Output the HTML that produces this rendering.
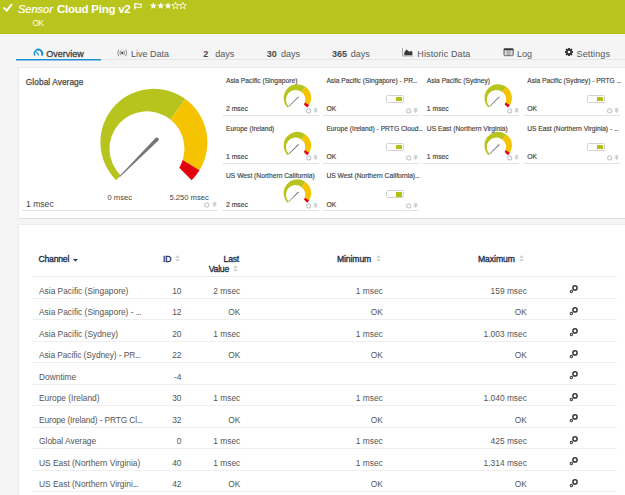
<!DOCTYPE html><html><head><meta charset="utf-8"><style>
*{margin:0;padding:0;box-sizing:border-box}
html,body{width:625px;height:495px;overflow:hidden}
body{background:#f5f5f5;font-family:"Liberation Sans",sans-serif;position:relative;color:#555}
.a{position:absolute;white-space:nowrap}
#hdr{position:absolute;left:0;top:0;width:625px;height:34px;background:#b9c51d;border-bottom:1px solid #b3c00e}
.tab{position:absolute;top:49px;font-size:9px;color:#555;white-space:nowrap}
.panel{position:absolute;background:#fff;box-shadow:0 1px 0 0 #dedede,0 0 0 1px #ebebeb}
.tt{position:absolute;font-size:6.7px;color:#444;-webkit-text-stroke:0.15px #444;white-space:nowrap}
.tv{position:absolute;font-size:6.8px;color:#444;-webkit-text-stroke:0.15px #444;white-space:nowrap}
.tl{position:absolute;height:1px;background:#e3e3e3}
.th{position:absolute;font-size:8.6px;letter-spacing:-0.2px;-webkit-text-stroke:0.35px #24314f;color:#24314f;white-space:nowrap}
.td{position:absolute;font-size:8.4px;color:#555;white-space:nowrap}
.r{text-align:right}
</style></head><body>
<div id="hdr">
<svg class="a" style="left:0;top:0" width="14" height="14" viewBox="0 0 14 14"><path d="M3.5,7.5 L6.8,10.6 L11.9,4.2" fill="none" stroke="#fff" stroke-width="1.9"/></svg>
<div class="a" style="left:18px;top:3px;font-size:11px;font-style:italic;color:#fff;-webkit-text-stroke:0.2px #fff">Sensor</div>
<div class="a" style="left:57px;top:2.5px;font-size:11.5px;letter-spacing:-0.25px;font-weight:bold;color:#fff">Cloud Ping v2</div>
<svg class="a" style="left:134px;top:2.5px" width="8" height="7" viewBox="0 0 8 7"><path d="M0.8,0.3V6.5" stroke="#fff" stroke-width="1.2"/><path d="M0.8,1 Q2.4,0.2 4,1 T7.1,1 V4.4 Q5.5,5.2 4,4.4 T0.8,4.4" fill="none" stroke="#fff" stroke-width="1.05"/></svg>
<svg class="a" style="left:0;top:0" width="200" height="14"><polygon points="153.30,2.15 154.24,4.51 156.77,4.67 154.82,6.29 155.45,8.75 153.30,7.40 151.15,8.75 151.78,6.29 149.83,4.67 152.36,4.51" fill="#fff"/><polygon points="160.68,2.15 161.62,4.51 164.15,4.67 162.20,6.29 162.83,8.75 160.68,7.40 158.53,8.75 159.16,6.29 157.21,4.67 159.74,4.51" fill="#fff"/><polygon points="168.06,2.15 169.00,4.51 171.53,4.67 169.58,6.29 170.21,8.75 168.06,7.40 165.91,8.75 166.54,6.29 164.59,4.67 167.12,4.51" fill="#fff"/><polygon points="175.44,2.15 176.38,4.51 178.91,4.67 176.96,6.29 177.59,8.75 175.44,7.40 173.29,8.75 173.92,6.29 171.97,4.67 174.50,4.51" fill="none" stroke="#fff" stroke-width="0.8"/><polygon points="182.82,2.15 183.76,4.51 186.29,4.67 184.34,6.29 184.97,8.75 182.82,7.40 180.67,8.75 181.30,6.29 179.35,4.67 181.88,4.51" fill="none" stroke="#fff" stroke-width="0.8"/></svg>
<div class="a" style="left:32.6px;top:17.6px;font-size:8.4px;letter-spacing:-0.5px;color:#fff">OK</div>
</div>
<div class="a" style="left:16px;top:59px;width:609px;height:1px;background:#e6e6e6"></div>
<div class="a" style="left:16px;top:59px;width:85px;height:2px;background:linear-gradient(#1a8fd6 50%,#8cc4e8 50%)"></div>
<svg class="a" style="left:0;top:0" width="60" height="70"><path d="M34.42,56.07A4.75,4.75 0 1 1 42.48,56.07L41.00,55.15A3.20,3.20 0 1 0 35.37,55.47Z" fill="#1a8fd6"/><path d="M38.7,54.8 L36.1,52.2" stroke="#1a8fd6" stroke-width="1.15" stroke-linecap="round"/></svg>
<div class="tab" style="left:46.3px;color:#444;-webkit-text-stroke:0.3px #444">Overview</div>
<svg class="a" style="left:116px;top:48.5px" width="13" height="8" viewBox="0 0 13 8"><circle cx="6.2" cy="3.9" r="1.05" fill="#333"/><path d="M4.6,1.6Q3.3,3.9 4.6,6.2M2.7,0.6Q0.8,3.9 2.7,7.2M7.8,1.6Q9.1,3.9 7.8,6.2M9.7,0.6Q11.6,3.9 9.7,7.2" fill="none" stroke="#8a8a8a" stroke-width="0.95"/></svg>
<div class="tab" style="left:131px">Live Data</div>
<div class="tab" style="left:203.3px;font-weight:bold;color:#4a4a4a">2</div><div class="tab" style="left:215.3px">days</div>
<div class="tab" style="left:266.8px;font-weight:bold;color:#4a4a4a">30</div><div class="tab" style="left:281.1px">days</div>
<div class="tab" style="left:332.1px;font-weight:bold;color:#4a4a4a">365</div><div class="tab" style="left:350.7px">days</div>
<svg class="a" style="left:402px;top:48px" width="12" height="9" viewBox="0 0 12 9"><path d="M0.6,0V8H11" fill="none" stroke="#aaa" stroke-width="1"/><path d="M2.3,7.2L2.3,4.6L4.3,1.6L7.5,3.8L9.2,2.8L10.4,4.2L10.4,7.2Z" fill="#3a3a3a"/></svg>
<div class="tab" style="left:417.3px;letter-spacing:0.13px">Historic Data</div>
<svg class="a" style="left:503px;top:48px" width="11" height="9" viewBox="0 0 11 9"><rect x="0.9" y="0.7" width="9.4" height="7" rx="1" fill="#b5b5b5" stroke="#666" stroke-width="0.9"/><rect x="0.9" y="0.6" width="9.4" height="1.6" fill="#333"/><rect x="2" y="2.4" width="1.4" height="4.8" fill="#ddd"/><rect x="7.8" y="2.4" width="1.4" height="4.8" fill="#ddd"/></svg>
<div class="tab" style="left:517px">Log</div>
<svg class="a" style="left:564px;top:47.1px" width="10" height="10" viewBox="0 0 10 10"><rect x="4.2" y="1" width="1.6" height="8" fill="#333" transform="rotate(0 5 5)"/><rect x="4.2" y="1" width="1.6" height="8" fill="#333" transform="rotate(45 5 5)"/><rect x="4.2" y="1" width="1.6" height="8" fill="#333" transform="rotate(90 5 5)"/><rect x="4.2" y="1" width="1.6" height="8" fill="#333" transform="rotate(135 5 5)"/><rect x="4.2" y="1" width="1.6" height="8" fill="#333" transform="rotate(180 5 5)"/><rect x="4.2" y="1" width="1.6" height="8" fill="#333" transform="rotate(225 5 5)"/><rect x="4.2" y="1" width="1.6" height="8" fill="#333" transform="rotate(270 5 5)"/><rect x="4.2" y="1" width="1.6" height="8" fill="#333" transform="rotate(315 5 5)"/><circle cx="5" cy="5" r="2.8" fill="#333"/><circle cx="5" cy="5" r="1.35" fill="#f5f5f5"/></svg>
<div class="tab" style="left:576.5px;letter-spacing:0.14px">Settings</div>
<div class="panel" style="left:19px;top:68px;width:620px;height:150px"></div>
<div class="a" style="left:25.8px;top:76.6px;font-size:8.3px;letter-spacing:0.08px;color:#4a4a4a;-webkit-text-stroke:0.25px #4a4a4a">Global Average</div>
<div class="a" style="left:26px;top:199px;font-size:8.6px;color:#444">1 msec</div>
<div class="tl" style="left:22px;top:210px;width:196px"></div>
<div class="a" style="left:107.5px;top:192.7px;font-size:7.6px;color:#444">0 msec</div>
<div class="a" style="left:169.5px;top:192.7px;font-size:7.6px;color:#444">5.250 msec</div>
<svg class="a" style="left:0;top:0" width="625" height="495"><path d="M116.07,180.13A53.50,53.50 0 0 1 185.35,99.02L170.45,119.52A37.50,37.50 0 0 0 120.69,175.51Z" fill="#b7c41d"/><path d="M185.35,99.02A53.50,53.50 0 0 1 199.52,170.25L182.68,159.93A37.50,37.50 0 0 0 170.45,119.52Z" fill="#f6c300"/><path d="M199.52,170.25A53.50,53.50 0 0 1 191.73,180.13L179.26,167.66A37.50,37.50 0 0 0 182.68,159.93Z" fill="#e2000e"/><path d="M155.53,137.99L119.32,176.31L119.89,176.88L158.21,140.67Z" fill="#777"/><circle cx="156.87" cy="139.33" r="1.90" fill="#777"/></svg>
<svg class="a" style="left:203.8px;top:201.8px" width="14" height="7" viewBox="0 0 14 7"><circle cx="2.6" cy="2.9" r="2.05" fill="none" stroke="#c6c9ce" stroke-width="1.15"/><g transform="translate(1,0)" fill="#c6c9ce"><rect x="7.9" y="0.4" width="3.4" height="0.9"/><rect x="8.6" y="0.4" width="2" height="2.6"/><rect x="7.4" y="2.7" width="4.4" height="0.9"/><rect x="9.2" y="3.4" width="0.8" height="1.6"/></g></svg>
<div class="tt" style="left:226.0px;top:76.7px">Asia Pacific (Singapore)</div>
<div class="tv" style="left:226.0px;top:104.9px">2 msec</div>
<div class="tl" style="left:222.5px;top:115px;width:96px"></div>
<svg class="a" style="left:306.0px;top:107.8px" width="14" height="7" viewBox="0 0 14 7"><circle cx="2.6" cy="2.9" r="2.05" fill="none" stroke="#c6c9ce" stroke-width="1.15"/><g transform="translate(0,0)" fill="#c6c9ce"><rect x="7.9" y="0.4" width="3.4" height="0.9"/><rect x="8.6" y="0.4" width="2" height="2.6"/><rect x="7.4" y="2.7" width="4.4" height="0.9"/><rect x="9.2" y="3.4" width="0.8" height="1.6"/></g></svg>
<div class="tt" style="left:326.4px;top:76.7px">Asia Pacific (Singapore) - PR<span style="letter-spacing:-0.55px">...</span></div>
<div class="tv" style="left:326.4px;top:104.9px">OK</div>
<div class="tl" style="left:322.9px;top:115px;width:96px"></div>
<svg class="a" style="left:406.4px;top:107.8px" width="14" height="7" viewBox="0 0 14 7"><circle cx="2.6" cy="2.9" r="2.05" fill="none" stroke="#c6c9ce" stroke-width="1.15"/><g transform="translate(0,0)" fill="#c6c9ce"><rect x="7.9" y="0.4" width="3.4" height="0.9"/><rect x="8.6" y="0.4" width="2" height="2.6"/><rect x="7.4" y="2.7" width="4.4" height="0.9"/><rect x="9.2" y="3.4" width="0.8" height="1.6"/></g></svg>
<div class="a" style="left:385.9px;top:95.0px;width:18px;height:8.3px;border:1.3px solid #d2d2d2;background:#fff;border-radius:1.5px"></div>
<div class="a" style="left:395.8px;top:97.0px;width:6.5px;height:4.4px;background:#b3c010;border-radius:0.5px"></div>
<div class="tt" style="left:426.8px;top:76.7px">Asia Pacific (Sydney)</div>
<div class="tv" style="left:426.8px;top:104.9px">1 msec</div>
<div class="tl" style="left:423.3px;top:115px;width:96px"></div>
<svg class="a" style="left:506.8px;top:107.8px" width="14" height="7" viewBox="0 0 14 7"><circle cx="2.6" cy="2.9" r="2.05" fill="none" stroke="#c6c9ce" stroke-width="1.15"/><g transform="translate(0,0)" fill="#c6c9ce"><rect x="7.9" y="0.4" width="3.4" height="0.9"/><rect x="8.6" y="0.4" width="2" height="2.6"/><rect x="7.4" y="2.7" width="4.4" height="0.9"/><rect x="9.2" y="3.4" width="0.8" height="1.6"/></g></svg>
<div class="tt" style="left:527.2px;top:76.7px">Asia Pacific (Sydney) - PRTG <span style="letter-spacing:-0.55px">...</span></div>
<div class="tv" style="left:527.2px;top:104.9px">OK</div>
<div class="tl" style="left:523.7px;top:115px;width:96px"></div>
<svg class="a" style="left:607.2px;top:107.8px" width="14" height="7" viewBox="0 0 14 7"><circle cx="2.6" cy="2.9" r="2.05" fill="none" stroke="#c6c9ce" stroke-width="1.15"/><g transform="translate(0,0)" fill="#c6c9ce"><rect x="7.9" y="0.4" width="3.4" height="0.9"/><rect x="8.6" y="0.4" width="2" height="2.6"/><rect x="7.4" y="2.7" width="4.4" height="0.9"/><rect x="9.2" y="3.4" width="0.8" height="1.6"/></g></svg>
<div class="a" style="left:586.7px;top:95.0px;width:18px;height:8.3px;border:1.3px solid #d2d2d2;background:#fff;border-radius:1.5px"></div>
<div class="a" style="left:596.6px;top:97.0px;width:6.5px;height:4.4px;background:#b3c010;border-radius:0.5px"></div>
<div class="tt" style="left:226.0px;top:124.9px">Europe (Ireland)</div>
<div class="tv" style="left:226.0px;top:153.1px">1 msec</div>
<div class="tl" style="left:222.5px;top:162.5px;width:96px"></div>
<svg class="a" style="left:306.0px;top:155.4px" width="14" height="7" viewBox="0 0 14 7"><circle cx="2.6" cy="2.9" r="2.05" fill="none" stroke="#c6c9ce" stroke-width="1.15"/><g transform="translate(0,0)" fill="#c6c9ce"><rect x="7.9" y="0.4" width="3.4" height="0.9"/><rect x="8.6" y="0.4" width="2" height="2.6"/><rect x="7.4" y="2.7" width="4.4" height="0.9"/><rect x="9.2" y="3.4" width="0.8" height="1.6"/></g></svg>
<div class="tt" style="left:326.4px;top:124.9px">Europe (Ireland) - PRTG Cloud<span style="letter-spacing:-0.55px">...</span></div>
<div class="tv" style="left:326.4px;top:153.1px">OK</div>
<div class="tl" style="left:322.9px;top:162.5px;width:96px"></div>
<svg class="a" style="left:406.4px;top:155.4px" width="14" height="7" viewBox="0 0 14 7"><circle cx="2.6" cy="2.9" r="2.05" fill="none" stroke="#c6c9ce" stroke-width="1.15"/><g transform="translate(0,0)" fill="#c6c9ce"><rect x="7.9" y="0.4" width="3.4" height="0.9"/><rect x="8.6" y="0.4" width="2" height="2.6"/><rect x="7.4" y="2.7" width="4.4" height="0.9"/><rect x="9.2" y="3.4" width="0.8" height="1.6"/></g></svg>
<div class="a" style="left:385.9px;top:142.6px;width:18px;height:8.3px;border:1.3px solid #d2d2d2;background:#fff;border-radius:1.5px"></div>
<div class="a" style="left:395.8px;top:144.6px;width:6.5px;height:4.4px;background:#b3c010;border-radius:0.5px"></div>
<div class="tt" style="left:426.8px;top:124.9px">US East (Northern Virginia)</div>
<div class="tv" style="left:426.8px;top:153.1px">1 msec</div>
<div class="tl" style="left:423.3px;top:162.5px;width:96px"></div>
<svg class="a" style="left:506.8px;top:155.4px" width="14" height="7" viewBox="0 0 14 7"><circle cx="2.6" cy="2.9" r="2.05" fill="none" stroke="#c6c9ce" stroke-width="1.15"/><g transform="translate(0,0)" fill="#c6c9ce"><rect x="7.9" y="0.4" width="3.4" height="0.9"/><rect x="8.6" y="0.4" width="2" height="2.6"/><rect x="7.4" y="2.7" width="4.4" height="0.9"/><rect x="9.2" y="3.4" width="0.8" height="1.6"/></g></svg>
<div class="tt" style="left:527.2px;top:124.9px">US East (Northern Virginia) - <span style="letter-spacing:-0.55px">...</span></div>
<div class="tv" style="left:527.2px;top:153.1px">OK</div>
<div class="tl" style="left:523.7px;top:162.5px;width:96px"></div>
<svg class="a" style="left:607.2px;top:155.4px" width="14" height="7" viewBox="0 0 14 7"><circle cx="2.6" cy="2.9" r="2.05" fill="none" stroke="#c6c9ce" stroke-width="1.15"/><g transform="translate(0,0)" fill="#c6c9ce"><rect x="7.9" y="0.4" width="3.4" height="0.9"/><rect x="8.6" y="0.4" width="2" height="2.6"/><rect x="7.4" y="2.7" width="4.4" height="0.9"/><rect x="9.2" y="3.4" width="0.8" height="1.6"/></g></svg>
<div class="a" style="left:586.7px;top:142.6px;width:18px;height:8.3px;border:1.3px solid #d2d2d2;background:#fff;border-radius:1.5px"></div>
<div class="a" style="left:596.6px;top:144.6px;width:6.5px;height:4.4px;background:#b3c010;border-radius:0.5px"></div>
<div class="tt" style="left:226.0px;top:172.3px">US West (Northern California)</div>
<div class="tv" style="left:226.0px;top:200.5px">2 msec</div>
<div class="tl" style="left:222.5px;top:210px;width:96px"></div>
<svg class="a" style="left:306.0px;top:203.0px" width="14" height="7" viewBox="0 0 14 7"><circle cx="2.6" cy="2.9" r="2.05" fill="none" stroke="#c6c9ce" stroke-width="1.15"/><g transform="translate(0,0)" fill="#c6c9ce"><rect x="7.9" y="0.4" width="3.4" height="0.9"/><rect x="8.6" y="0.4" width="2" height="2.6"/><rect x="7.4" y="2.7" width="4.4" height="0.9"/><rect x="9.2" y="3.4" width="0.8" height="1.6"/></g></svg>
<div class="tt" style="left:326.4px;top:172.3px">US West (Northern California)<span style="letter-spacing:-0.55px">...</span></div>
<div class="tv" style="left:326.4px;top:200.5px">OK</div>
<div class="tl" style="left:322.9px;top:210px;width:96px"></div>
<svg class="a" style="left:406.4px;top:203.0px" width="14" height="7" viewBox="0 0 14 7"><circle cx="2.6" cy="2.9" r="2.05" fill="none" stroke="#c6c9ce" stroke-width="1.15"/><g transform="translate(0,0)" fill="#c6c9ce"><rect x="7.9" y="0.4" width="3.4" height="0.9"/><rect x="8.6" y="0.4" width="2" height="2.6"/><rect x="7.4" y="2.7" width="4.4" height="0.9"/><rect x="9.2" y="3.4" width="0.8" height="1.6"/></g></svg>
<div class="a" style="left:385.9px;top:190.2px;width:18px;height:8.3px;border:1.3px solid #d2d2d2;background:#fff;border-radius:1.5px"></div>
<div class="a" style="left:395.8px;top:192.2px;width:6.5px;height:4.4px;background:#b3c010;border-radius:0.5px"></div>
<svg class="a" style="left:0;top:0" width="625" height="495"><path d="M287.68,107.62A13.75,13.75 0 0 1 305.48,86.78L301.65,92.04A9.64,9.64 0 0 0 288.86,106.44Z" fill="#b7c41d"/><path d="M305.48,86.78A13.75,13.75 0 0 1 309.12,105.08L304.80,102.43A9.64,9.64 0 0 0 301.65,92.04Z" fill="#f6c300"/><path d="M309.12,105.08A13.75,13.75 0 0 1 307.12,107.62L303.92,104.42A9.64,9.64 0 0 0 304.80,102.43Z" fill="#e2000e"/><path d="M297.99,96.67L288.65,106.23L289.07,106.65L298.63,97.31Z" fill="#666"/><circle cx="298.31" cy="96.99" r="0.45" fill="#666"/><path d="M488.48,107.62A13.75,13.75 0 0 1 506.28,86.78L502.45,92.04A9.64,9.64 0 0 0 489.66,106.44Z" fill="#b7c41d"/><path d="M506.28,86.78A13.75,13.75 0 0 1 509.92,105.08L505.60,102.43A9.64,9.64 0 0 0 502.45,92.04Z" fill="#f6c300"/><path d="M509.92,105.08A13.75,13.75 0 0 1 507.92,107.62L504.72,104.42A9.64,9.64 0 0 0 505.60,102.43Z" fill="#e2000e"/><path d="M498.79,96.67L489.45,106.23L489.87,106.65L499.43,97.31Z" fill="#666"/><circle cx="499.11" cy="96.99" r="0.45" fill="#666"/><path d="M287.68,155.22A13.75,13.75 0 0 1 305.48,134.38L301.65,139.64A9.64,9.64 0 0 0 288.86,154.04Z" fill="#b7c41d"/><path d="M305.48,134.38A13.75,13.75 0 0 1 309.12,152.68L304.80,150.03A9.64,9.64 0 0 0 301.65,139.64Z" fill="#f6c300"/><path d="M309.12,152.68A13.75,13.75 0 0 1 307.12,155.22L303.92,152.02A9.64,9.64 0 0 0 304.80,150.03Z" fill="#e2000e"/><path d="M297.99,144.27L288.65,153.83L289.07,154.25L298.63,144.91Z" fill="#666"/><circle cx="298.31" cy="144.59" r="0.45" fill="#666"/><path d="M488.48,155.22A13.75,13.75 0 0 1 506.28,134.38L502.45,139.64A9.64,9.64 0 0 0 489.66,154.04Z" fill="#b7c41d"/><path d="M506.28,134.38A13.75,13.75 0 0 1 509.92,152.68L505.60,150.03A9.64,9.64 0 0 0 502.45,139.64Z" fill="#f6c300"/><path d="M509.92,152.68A13.75,13.75 0 0 1 507.92,155.22L504.72,152.02A9.64,9.64 0 0 0 505.60,150.03Z" fill="#e2000e"/><path d="M498.79,144.27L489.45,153.83L489.87,154.25L499.43,144.91Z" fill="#666"/><circle cx="499.11" cy="144.59" r="0.45" fill="#666"/><path d="M287.68,202.82A13.75,13.75 0 0 1 305.48,181.98L301.65,187.24A9.64,9.64 0 0 0 288.86,201.64Z" fill="#b7c41d"/><path d="M305.48,181.98A13.75,13.75 0 0 1 309.12,200.28L304.80,197.63A9.64,9.64 0 0 0 301.65,187.24Z" fill="#f6c300"/><path d="M309.12,200.28A13.75,13.75 0 0 1 307.12,202.82L303.92,199.62A9.64,9.64 0 0 0 304.80,197.63Z" fill="#e2000e"/><path d="M297.99,191.87L288.65,201.43L289.07,201.85L298.63,192.51Z" fill="#666"/><circle cx="298.31" cy="192.19" r="0.45" fill="#666"/></svg>
<div class="panel" style="left:19px;top:225px;width:620px;height:300px"></div>
<div class="th" style="left:38.5px;top:254.3px">Channel</div>
<svg class="a" style="left:73px;top:258.5px" width="5" height="3" viewBox="0 0 5 3"><path d="M0,0H5L2.5,2.5Z" fill="#24314f"/></svg>
<div class="th" style="left:163px;top:254.3px">ID</div><svg class="a" style="left:175px;top:255px" width="5" height="7" viewBox="0 0 5 7"><path d="M0.3,2.8L2.5,0.3L4.7,2.8ZM0.3,4.2L2.5,6.7L4.7,4.2Z" fill="#c9c9c9"/></svg>
<div class="th r" style="left:200px;width:39px;top:254.3px">Last</div>
<div class="th r" style="left:190px;width:39px;top:263.5px">Value</div><svg class="a" style="left:233px;top:265px" width="5" height="7" viewBox="0 0 5 7"><path d="M0.3,2.8L2.5,0.3L4.7,2.8ZM0.3,4.2L2.5,6.7L4.7,4.2Z" fill="#c9c9c9"/></svg>
<div class="th" style="left:337px;top:254.3px;letter-spacing:-0.1px">Minimum</div><svg class="a" style="left:376px;top:255px" width="5" height="7" viewBox="0 0 5 7"><path d="M0.3,2.8L2.5,0.3L4.7,2.8ZM0.3,4.2L2.5,6.7L4.7,4.2Z" fill="#c9c9c9"/></svg>
<div class="th" style="left:478px;top:254.3px;letter-spacing:-0.05px">Maximum</div><svg class="a" style="left:519px;top:255px" width="5" height="7" viewBox="0 0 5 7"><path d="M0.3,2.8L2.5,0.3L4.7,2.8ZM0.3,4.2L2.5,6.7L4.7,4.2Z" fill="#c9c9c9"/></svg>
<div class="tl" style="left:32px;top:276px;width:585px;background:#ebebeb"></div>
<div class="td" style="left:39px;top:285.8px;letter-spacing:0px">Asia Pacific (Singapore)</div>
<div class="td r" style="left:142px;width:39.5px;top:285.8px">10</div>
<div class="td r" style="left:191px;width:49.3px;top:285.8px">2 msec</div>
<div class="td r" style="left:332px;width:50.8px;top:285.8px">1 msec</div>
<div class="td r" style="left:462px;width:64.9px;top:285.8px">159 msec</div>
<svg class="a" style="left:569px;top:284.3px" width="10" height="10" viewBox="0 0 10 10"><circle cx="6.0" cy="3.9" r="2.1" fill="none" stroke="#333" stroke-width="1.45"/><circle cx="2.4" cy="7.55" r="1.15" fill="none" stroke="#444" stroke-width="1.1"/></svg>
<div class="tl" style="left:32px;top:298px;width:585px;background:#efefef"></div>
<div class="td" style="left:39px;top:307.3px;letter-spacing:0px">Asia Pacific (Singapore) - <span style="letter-spacing:-0.6px">...</span></div>
<div class="td r" style="left:142px;width:39.5px;top:307.3px">12</div>
<div class="td r" style="left:191px;width:49.3px;top:307.3px">OK</div>
<div class="td r" style="left:332px;width:50.8px;top:307.3px">OK</div>
<div class="td r" style="left:462px;width:64.9px;top:307.3px">OK</div>
<svg class="a" style="left:569px;top:305.8px" width="10" height="10" viewBox="0 0 10 10"><circle cx="6.0" cy="3.9" r="2.1" fill="none" stroke="#333" stroke-width="1.45"/><circle cx="2.4" cy="7.55" r="1.15" fill="none" stroke="#444" stroke-width="1.1"/></svg>
<div class="tl" style="left:32px;top:319px;width:585px;background:#efefef"></div>
<div class="td" style="left:39px;top:328.8px;letter-spacing:0px">Asia Pacific (Sydney)</div>
<div class="td r" style="left:142px;width:39.5px;top:328.8px">20</div>
<div class="td r" style="left:191px;width:49.3px;top:328.8px">1 msec</div>
<div class="td r" style="left:332px;width:50.8px;top:328.8px">1 msec</div>
<div class="td r" style="left:462px;width:64.9px;top:328.8px">1.003 msec</div>
<svg class="a" style="left:569px;top:327.3px" width="10" height="10" viewBox="0 0 10 10"><circle cx="6.0" cy="3.9" r="2.1" fill="none" stroke="#333" stroke-width="1.45"/><circle cx="2.4" cy="7.55" r="1.15" fill="none" stroke="#444" stroke-width="1.1"/></svg>
<div class="tl" style="left:32px;top:341px;width:585px;background:#efefef"></div>
<div class="td" style="left:39px;top:350.3px;letter-spacing:-0.08px">Asia Pacific (Sydney) - PR<span style="letter-spacing:-0.6px">...</span></div>
<div class="td r" style="left:142px;width:39.5px;top:350.3px">22</div>
<div class="td r" style="left:191px;width:49.3px;top:350.3px">OK</div>
<div class="td r" style="left:332px;width:50.8px;top:350.3px">OK</div>
<div class="td r" style="left:462px;width:64.9px;top:350.3px">OK</div>
<svg class="a" style="left:569px;top:348.8px" width="10" height="10" viewBox="0 0 10 10"><circle cx="6.0" cy="3.9" r="2.1" fill="none" stroke="#333" stroke-width="1.45"/><circle cx="2.4" cy="7.55" r="1.15" fill="none" stroke="#444" stroke-width="1.1"/></svg>
<div class="tl" style="left:32px;top:362px;width:585px;background:#efefef"></div>
<div class="td" style="left:39px;top:371.8px;letter-spacing:0px">Downtime</div>
<div class="td r" style="left:142px;width:39.5px;top:371.8px">-4</div>
<div class="td r" style="left:191px;width:49.3px;top:371.8px"></div>
<div class="td r" style="left:332px;width:50.8px;top:371.8px"></div>
<div class="td r" style="left:462px;width:64.9px;top:371.8px"></div>
<svg class="a" style="left:569px;top:370.3px" width="10" height="10" viewBox="0 0 10 10"><circle cx="6.0" cy="3.9" r="2.1" fill="none" stroke="#333" stroke-width="1.45"/><circle cx="2.4" cy="7.55" r="1.15" fill="none" stroke="#444" stroke-width="1.1"/></svg>
<div class="tl" style="left:32px;top:384px;width:585px;background:#efefef"></div>
<div class="td" style="left:39px;top:393.3px;letter-spacing:0px">Europe (Ireland)</div>
<div class="td r" style="left:142px;width:39.5px;top:393.3px">30</div>
<div class="td r" style="left:191px;width:49.3px;top:393.3px">1 msec</div>
<div class="td r" style="left:332px;width:50.8px;top:393.3px">1 msec</div>
<div class="td r" style="left:462px;width:64.9px;top:393.3px">1.040 msec</div>
<svg class="a" style="left:569px;top:391.8px" width="10" height="10" viewBox="0 0 10 10"><circle cx="6.0" cy="3.9" r="2.1" fill="none" stroke="#333" stroke-width="1.45"/><circle cx="2.4" cy="7.55" r="1.15" fill="none" stroke="#444" stroke-width="1.1"/></svg>
<div class="tl" style="left:32px;top:405px;width:585px;background:#efefef"></div>
<div class="td" style="left:39px;top:414.8px;letter-spacing:-0.13px">Europe (Ireland) - PRTG Cl<span style="letter-spacing:-0.6px">...</span></div>
<div class="td r" style="left:142px;width:39.5px;top:414.8px">32</div>
<div class="td r" style="left:191px;width:49.3px;top:414.8px">OK</div>
<div class="td r" style="left:332px;width:50.8px;top:414.8px">OK</div>
<div class="td r" style="left:462px;width:64.9px;top:414.8px">OK</div>
<svg class="a" style="left:569px;top:413.3px" width="10" height="10" viewBox="0 0 10 10"><circle cx="6.0" cy="3.9" r="2.1" fill="none" stroke="#333" stroke-width="1.45"/><circle cx="2.4" cy="7.55" r="1.15" fill="none" stroke="#444" stroke-width="1.1"/></svg>
<div class="tl" style="left:32px;top:427px;width:585px;background:#efefef"></div>
<div class="td" style="left:39px;top:436.3px;letter-spacing:0px">Global Average</div>
<div class="td r" style="left:142px;width:39.5px;top:436.3px">0</div>
<div class="td r" style="left:191px;width:49.3px;top:436.3px">1 msec</div>
<div class="td r" style="left:332px;width:50.8px;top:436.3px">1 msec</div>
<div class="td r" style="left:462px;width:64.9px;top:436.3px">425 msec</div>
<svg class="a" style="left:569px;top:434.8px" width="10" height="10" viewBox="0 0 10 10"><circle cx="6.0" cy="3.9" r="2.1" fill="none" stroke="#333" stroke-width="1.45"/><circle cx="2.4" cy="7.55" r="1.15" fill="none" stroke="#444" stroke-width="1.1"/></svg>
<div class="tl" style="left:32px;top:448px;width:585px;background:#efefef"></div>
<div class="td" style="left:39px;top:457.8px;letter-spacing:0px">US East (Northern Virginia)</div>
<div class="td r" style="left:142px;width:39.5px;top:457.8px">40</div>
<div class="td r" style="left:191px;width:49.3px;top:457.8px">1 msec</div>
<div class="td r" style="left:332px;width:50.8px;top:457.8px">1 msec</div>
<div class="td r" style="left:462px;width:64.9px;top:457.8px">1.314 msec</div>
<svg class="a" style="left:569px;top:456.3px" width="10" height="10" viewBox="0 0 10 10"><circle cx="6.0" cy="3.9" r="2.1" fill="none" stroke="#333" stroke-width="1.45"/><circle cx="2.4" cy="7.55" r="1.15" fill="none" stroke="#444" stroke-width="1.1"/></svg>
<div class="tl" style="left:32px;top:470px;width:585px;background:#efefef"></div>
<div class="td" style="left:39px;top:479.3px;letter-spacing:0px">US East (Northern Virgini<span style="letter-spacing:-0.6px">...</span></div>
<div class="td r" style="left:142px;width:39.5px;top:479.3px">42</div>
<div class="td r" style="left:191px;width:49.3px;top:479.3px">OK</div>
<div class="td r" style="left:332px;width:50.8px;top:479.3px">OK</div>
<div class="td r" style="left:462px;width:64.9px;top:479.3px">OK</div>
<svg class="a" style="left:569px;top:477.8px" width="10" height="10" viewBox="0 0 10 10"><circle cx="6.0" cy="3.9" r="2.1" fill="none" stroke="#333" stroke-width="1.45"/><circle cx="2.4" cy="7.55" r="1.15" fill="none" stroke="#444" stroke-width="1.1"/></svg>
<div class="tl" style="left:32px;top:491px;width:585px;background:#efefef"></div>
</body></html>
